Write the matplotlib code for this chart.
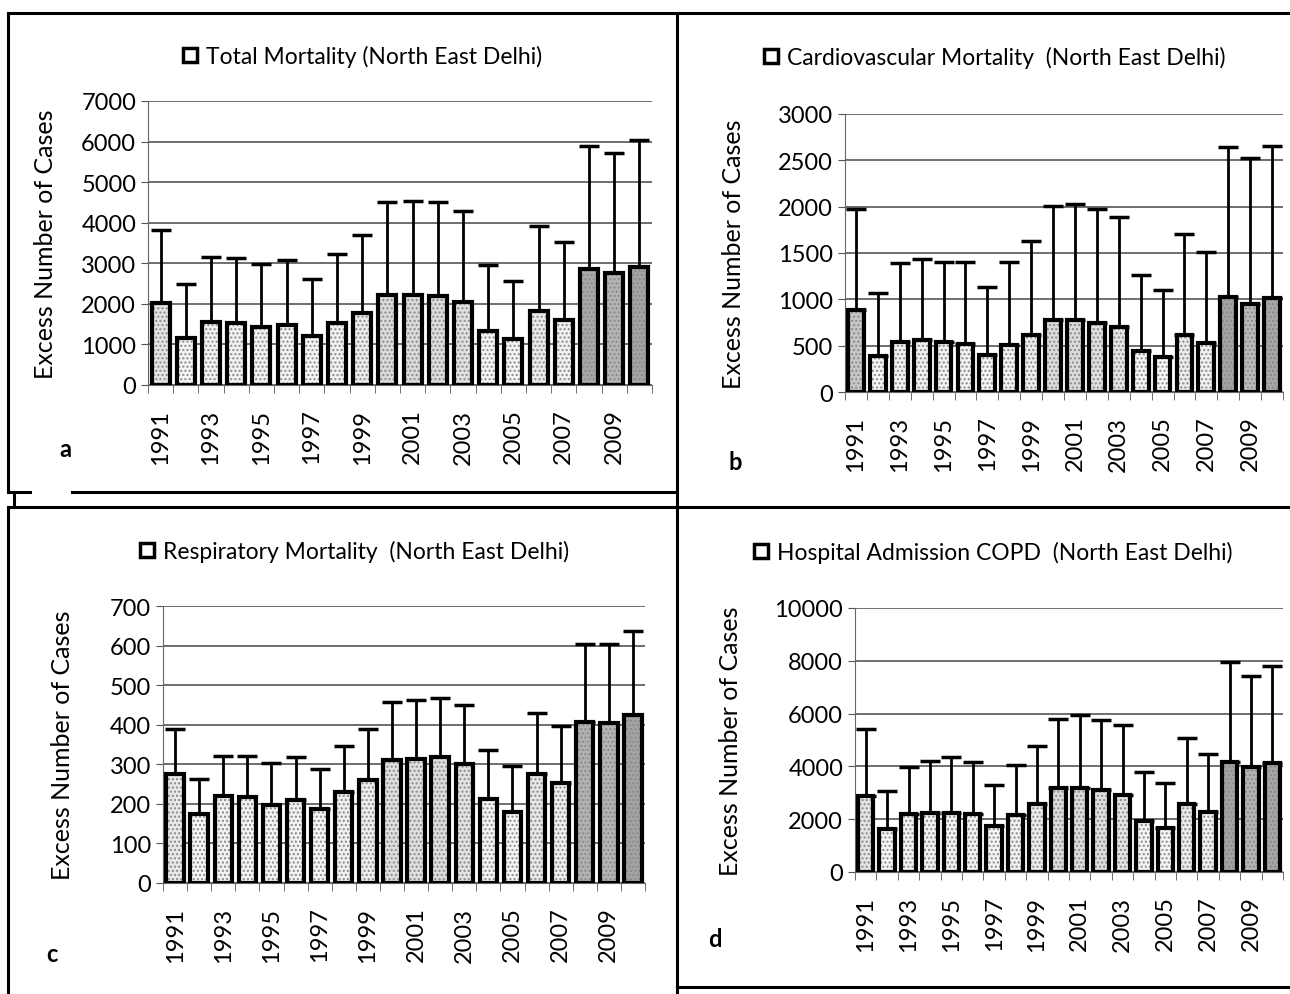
import numpy as np
import matplotlib
matplotlib.use("Agg")
import matplotlib.pyplot as plt
from matplotlib.patches import Patch
from matplotlib.lines import Line2D

plt.rcParams["font.family"] = ["Lato", "DejaVu Sans"]

years = list(range(1991, 2011))

# Total mortality
total_vals = [2030, 1170, 1550, 1530, 1430, 1470, 1200, 1520, 1780, 2220,
              2230, 2190, 2050, 1340, 1130, 1820, 1610, 2860, 2760, 2900]
total_upper = [3820, 2480, 3150, 3130, 2990, 3090, 2610, 3230, 3690, 4500,
               4540, 4500, 4280, 2960, 2560, 3920, 3520, 5880, 5720, 6040]

# Cardiovascular mortality
cardio_vals = [890, 390, 540, 560, 540, 520, 400, 510, 610, 780,
               780, 750, 700, 440, 380, 610, 530, 1020, 950, 1010]
cardio_upper = [1980, 1070, 1390, 1430, 1400, 1400, 1130, 1400, 1630, 2010,
                2030, 1980, 1890, 1260, 1100, 1700, 1510, 2640, 2530, 2650]

# Respiratory mortality
resp_vals = [275, 175, 220, 217, 198, 211, 187, 229, 260, 312,
             314, 318, 300, 212, 180, 275, 252, 408, 404, 425]
resp_upper = [389, 263, 322, 320, 302, 319, 288, 345, 388, 457,
              462, 468, 451, 336, 295, 429, 396, 605, 605, 636]

# Hospital admission COPD
copd_vals = [2870, 1640, 2180, 2240, 2230, 2190, 1730, 2160, 2560, 3190,
             3200, 3100, 2910, 1930, 1650, 2590, 2260, 4170, 3960, 4140]
copd_upper = [5410, 3080, 3970, 4200, 4360, 4180, 3310, 4050, 4760, 5810,
              5950, 5750, 5580, 3780, 3360, 5080, 4480, 7950, 7410, 7810]

W, H = 1290, 995


def px(x0, y0, x1, y1):
    return [x0 / W, 1 - y1 / H, (x1 - x0) / W, (y1 - y0) / H]


def panel(fig, rect, vals, upper, title, title_xy, ymax, ystep, letter, letter_xy, ylabel_x):
    ax = fig.add_axes(px(*rect))
    x = np.arange(len(years))
    vals = np.array(vals)
    upper = np.array(upper)
    shade = plt.cm.Greys(0.06 + 0.4 * (vals / vals.max()) ** 3)
    ax.errorbar(x, vals, yerr=[np.zeros(len(x)), upper - vals], fmt="none",
                ecolor="black", elinewidth=2, capsize=7, capthick=2.5, zorder=2)
    # speckled fill, then the thick outline on top
    ax.bar(x, vals, width=0.72, color=shade, edgecolor="#8a8a8a", hatch="....",
           linewidth=0, zorder=3)
    ax.bar(x, vals, width=0.72, fill=False, edgecolor="black", linewidth=3, zorder=4)
    ax.set_xlim(-0.5, len(x) - 0.5)
    ax.set_ylim(0, ymax)
    ax.set_yticks(np.arange(0, ymax + 1, ystep))
    ax.yaxis.grid(True, color="#555555", linewidth=1.2)
    ax.set_axisbelow(True)
    ax.set_xticks(x[::2])
    ax.set_xticklabels([str(y) for y in years[::2]], rotation=90)
    ax.set_xticks(np.arange(-0.5, len(x), 1), minor=True)
    ax.tick_params(axis="x", which="major", length=0, labelsize=17, pad=17)
    ax.tick_params(axis="x", which="minor", length=6, color="#555555")
    ax.tick_params(axis="y", length=5, color="#555555", labelsize=17)
    for s in ["top", "right"]:
        ax.spines[s].set_visible(False)
    for s in ["left", "bottom"]:
        ax.spines[s].set_color("#666666")
    ax.set_ylabel("Excess Number of Cases", fontsize=18)
    ax.yaxis.set_label_coords((ylabel_x - rect[0]) / (rect[2] - rect[0]), 0.5)
    fig.legend(handles=[Patch(facecolor="white", edgecolor="black", linewidth=2.5)],
               labels=[title], loc="center",
               bbox_to_anchor=(title_xy[0] / W, 1 - title_xy[1] / H),
               frameon=False, fontsize=16.5, handlelength=0.6, handleheight=0.6,
               handletextpad=0.4, borderaxespad=0, borderpad=0)
    fig.text(letter_xy[0] / W, 1 - letter_xy[1] / H, letter, fontsize=17,
             fontweight="bold", ha="center", va="center")
    return ax


fig = plt.figure(figsize=(W / 100, H / 100), dpi=100)

panel(fig, (148, 102, 652, 386), total_vals, total_upper,
      "Total Mortality (North East Delhi)", (363, 57),
      7000, 1000, "a", (65, 450), 57)
panel(fig, (845, 115, 1283, 393), cardio_vals, cardio_upper,
      "Cardiovascular Mortality  (North East Delhi)", (995, 58),
      3000, 500, "b", (735, 463), 745)
panel(fig, (163, 607, 645, 884), resp_vals, resp_upper,
      "Respiratory Mortality  (North East Delhi)", (355, 552),
      700, 100, "c", (52, 955), 74)
panel(fig, (855, 609, 1283, 873), copd_vals, copd_upper,
      "Hospital Admission COPD  (North East Delhi)", (993, 553),
      10000, 2000, "d", (715, 940), 742)

# panel frames
frame = [
    ((8, 1290), (14, 14)),
    ((8, 8), (14, 493)),
    ((677, 677), (14, 995)),
    ((8, 30), (493, 493)),
    ((72, 677), (493, 493)),
    ((14, 14), (493, 508)),
    ((8, 1290), (508, 508)),
    ((8, 8), (508, 995)),
    ((677, 1290), (988, 988)),
]
for xs, ys in frame:
    fig.add_artist(Line2D([xs[0] / W, xs[1] / W], [1 - ys[0] / H, 1 - ys[1] / H],
                          transform=fig.transFigure, color="black", linewidth=2.2))

fig.savefig("out.png", dpi=100)
